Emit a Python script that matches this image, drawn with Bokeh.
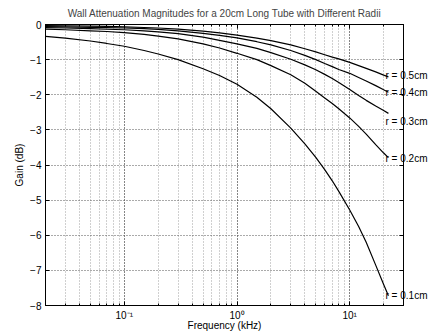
from bokeh.plotting import figure
from bokeh.models import LogAxis, LinearAxis, FixedTicker, CustomJSTickFormatter, LogTicker
from bokeh.embed import file_html
from bokeh.resources import INLINE

# ---- data ----
freq_khz = [0.02, 0.03, 0.05, 0.07, 0.1, 0.15, 0.2, 0.3, 0.5, 0.7, 1.0, 1.5, 2.0,
            3.0, 4.0, 5.0, 6.0, 7.0, 8.0, 10.0, 12.0, 14.0, 17.0, 20.0, 22.05]
gain_r01 = [-0.34, -0.39, -0.47, -0.54, -0.62, -0.74, -0.84, -1.00, -1.26, -1.45, -1.70, -2.07, -2.40,
            -2.95, -3.40, -3.78, -4.13, -4.45, -4.75, -5.28, -5.75, -6.20, -6.85, -7.40, -7.72]
gain_r02 = [-0.13, -0.15, -0.18, -0.20, -0.23, -0.28, -0.33, -0.41, -0.55, -0.67, -0.82, -1.00, -1.17,
            -1.43, -1.67, -1.90, -2.09, -2.25, -2.40, -2.66, -2.90, -3.12, -3.42, -3.66, -3.79]
gain_r03 = [-0.09, -0.10, -0.12, -0.135, -0.15, -0.18, -0.21, -0.26, -0.36, -0.45, -0.55, -0.68, -0.80,
            -0.99, -1.15, -1.29, -1.42, -1.54, -1.65, -1.85, -2.02, -2.16, -2.32, -2.45, -2.53]
gain_r04 = [-0.06, -0.07, -0.08, -0.09, -0.10, -0.12, -0.14, -0.18, -0.25, -0.31, -0.38, -0.49, -0.58,
            -0.74, -0.88, -1.00, -1.11, -1.20, -1.28, -1.39, -1.51, -1.61, -1.74, -1.86, -1.93]
gain_r05 = [-0.03, -0.035, -0.045, -0.055, -0.065, -0.085, -0.10, -0.13, -0.19, -0.24, -0.30, -0.39, -0.46,
            -0.58, -0.69, -0.78, -0.86, -0.93, -0.98, -1.08, -1.17, -1.25, -1.35, -1.44, -1.49]
series = [gain_r01, gain_r02, gain_r03, gain_r04, gain_r05]
radius_labels = ["r = 0.1cm", "r = 0.2cm", "r = 0.3cm", "r = 0.4cm", "r = 0.5cm"]
label_gain = [-7.71, -3.82, -2.75, -1.93, -1.46]
y_ticks = [-8, -7, -6, -5, -4, -3, -2, -1, 0]

title_text = "Wall Attenuation Magnitudes for a 20cm Long Tube with Different Radii"
x_label = "Frequency (kHz)"
y_label = "Gain (dB)"

FONT = "Liberation Sans"
FS = "10px"

p = figure(width=430, height=333, x_axis_type="log", x_range=(0.02, 30), y_range=(-8, 0),
           output_backend="svg", toolbar_location=None, title=title_text,
           min_border_left=45, min_border_right=27, min_border_top=10, min_border_bottom=10)

p.title.align = "center"
p.title.text_font = FONT
p.title.text_font_size = FS
p.title.text_font_style = "normal"
p.title.standoff = 11
p.title.offset = 0

p.background_fill_color = "white"
p.border_fill_color = "white"
p.outline_line_color = "black"
p.outline_line_width = 1

sup_js = """
const sup = {"-":"\u207b","0":"\u2070","1":"\u00b9","2":"\u00b2","3":"\u00b3","4":"\u2074",
             "5":"\u2075","6":"\u2076","7":"\u2077","8":"\u2078","9":"\u2079"};
const e = Math.round(Math.log10(tick));
return "10" + String(e).split("").map(c => sup[c]).join("");
"""

xt = LogTicker(num_minor_ticks=10)
yt = FixedTicker(ticks=y_ticks)

xa = p.xaxis[0]
xa.ticker = xt
xa.formatter = CustomJSTickFormatter(code=sup_js)
ya = p.yaxis[0]
ya.ticker = yt

for ax in (xa, ya):
    ax.axis_line_color = "black"
    ax.major_tick_in = 4
    ax.major_tick_out = 0
    ax.minor_tick_in = 2
    ax.minor_tick_out = 0
    ax.major_tick_line_color = "black"
    ax.minor_tick_line_color = "black"
    ax.major_label_text_font = FONT
    ax.major_label_text_font_size = FS
    ax.major_label_text_color = "black"
    ax.axis_label_text_font = FONT
    ax.axis_label_text_font_size = FS
    ax.axis_label_text_font_style = "normal"
    ax.axis_label_text_color = "black"

ya.minor_tick_line_color = None
xa.axis_label = x_label
ya.axis_label = y_label
xa.major_label_standoff = 4
xa.axis_label_standoff = -4
ya.major_label_standoff = 4
ya.axis_label_standoff = 2

# box ticks on the top
top = LogAxis(ticker=xt, axis_line_color="black", major_tick_in=4, major_tick_out=0,
              minor_tick_in=2, minor_tick_out=0, major_label_text_font_size="0px",
              major_label_standoff=0,
              formatter=CustomJSTickFormatter(code="return '';"))
p.add_layout(top, "above")

# right side: integer box ticks (as minor ticks) and the curve labels (as tick labels)
label_js = """
let best = 0, d = Infinity;
for (let i = 0; i < pos.length; i++) {
  const dd = Math.abs(pos[i] - tick);
  if (dd < d) { d = dd; best = i; }
}
return txt[best];
"""
right = LinearAxis(ticker=FixedTicker(ticks=label_gain, minor_ticks=y_ticks),
                   axis_line_color="black",
                   major_tick_in=0, major_tick_out=0,
                   minor_tick_in=4, minor_tick_out=0, minor_tick_line_color="black",
                   major_label_standoff=-18,
                   major_label_text_font=FONT, major_label_text_font_size=FS,
                   major_label_text_color="black",
                   formatter=CustomJSTickFormatter(args=dict(pos=label_gain, txt=radius_labels),
                                                   code=label_js))
p.add_layout(right, "right")

# dotted grid
p.xgrid.grid_line_color = "#555555"
p.xgrid.grid_line_dash = "1 2"
p.xgrid.grid_line_width = 1
p.xgrid.minor_grid_line_color = "#a0a0a0"
p.xgrid.minor_grid_line_dash = "1 2"
p.ygrid.ticker = yt
p.ygrid.grid_line_color = "#555555"
p.ygrid.grid_line_dash = "1 2"

for g in series:
    p.line(freq_khz, g, line_color="black", line_width=1.2)

open("out.html", "w").write(file_html(p, INLINE))
